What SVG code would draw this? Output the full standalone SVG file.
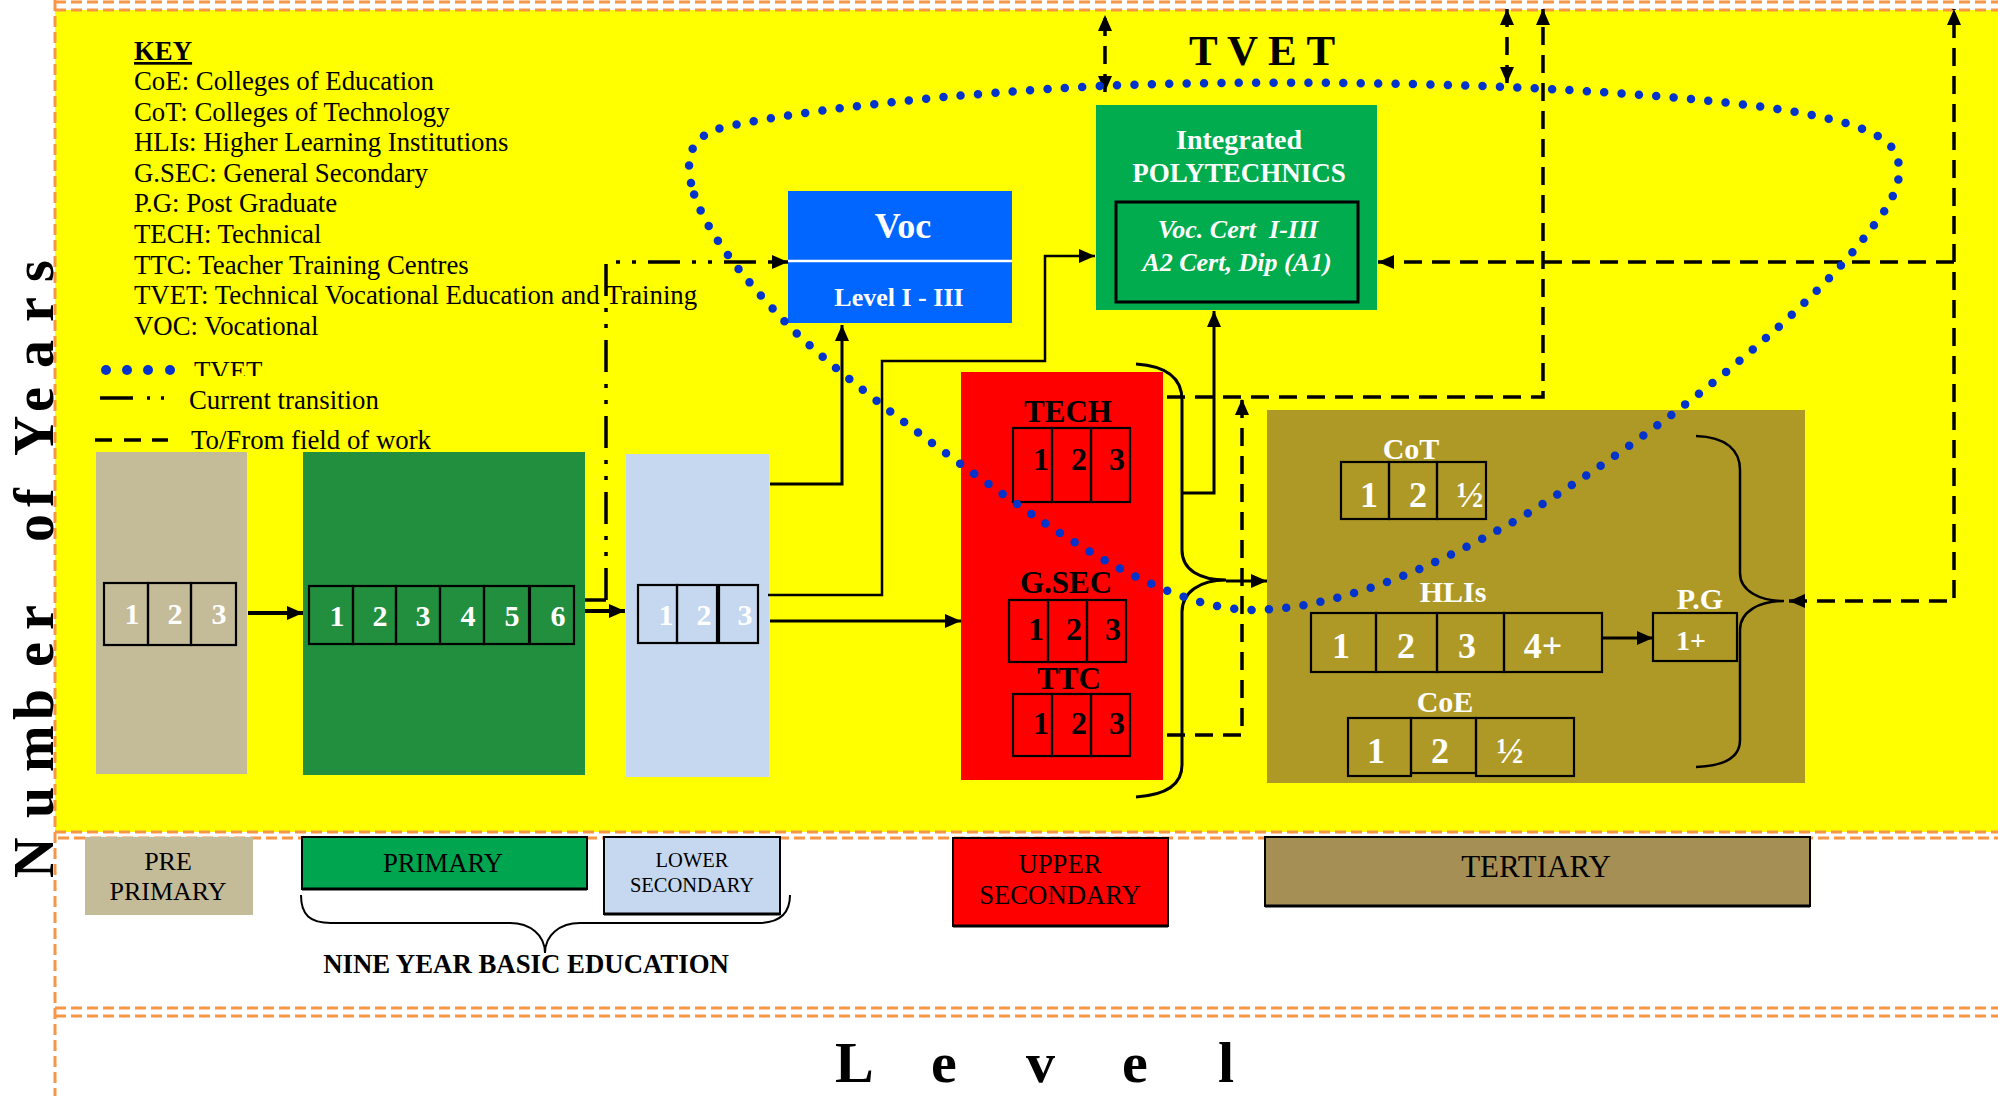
<svg xmlns="http://www.w3.org/2000/svg" width="1998" height="1096" viewBox="0 0 1998 1096">
<defs>
<marker id="ah" viewBox="0 0 10 10" refX="10" refY="5" markerWidth="16" markerHeight="14" markerUnits="userSpaceOnUse" orient="auto-start-reverse" preserveAspectRatio="none"><path d="M0,0 L10,5 L0,10 z" fill="#000"/></marker>
<clipPath id="tvclip"><rect x="180" y="340" width="120" height="36"/></clipPath>
</defs>
<style>
text{font-family:"Liberation Serif","Times New Roman",serif}
.key{font-size:26.8px;fill:#000}
.b{font-weight:bold}
.cell{fill:none;stroke:#000;stroke-width:2.2}
.dg{font-size:30px;font-weight:bold;fill:#fff;text-anchor:middle}
.rd{font-size:32px;font-weight:bold;fill:#000;text-anchor:middle}
.rl{font-size:31px;font-weight:bold;fill:#000;text-anchor:middle}
.td{font-size:36px;font-weight:bold;fill:#fff;text-anchor:middle}
.tl{font-size:30px;font-weight:bold;fill:#fff;text-anchor:middle}
.sol{fill:none;stroke:#000;stroke-width:3}
.dash{fill:none;stroke:#000;stroke-width:3.5;stroke-dasharray:18 10}
.dd{fill:none;stroke:#000;stroke-width:3.5;stroke-dasharray:32 12 4 12 4 12}
.or{fill:none;stroke:#f79646;stroke-width:3;stroke-dasharray:11 5}
.lbl{fill:#000;text-anchor:middle}
.s26{font-size:26px}
.s21{font-size:20.5px}
.s27{font-size:26.7px}
.s31{font-size:31px}
</style>
<rect width="1998" height="1096" fill="#fff"/>
<rect x="55" y="10" width="1943" height="822" fill="#ffff00"/>
<g id="frame">
<path class="or" d="M55,2 H1998 M55,10 H1998 M55,832 H1998 M58,838 H1998 M55,1008 H1998 M55,1016 H1998 M55,0 V1096"/>
</g>
<g id="axis-labels">
<text transform="translate(53,878) rotate(-90)" font-size="56" font-weight="bold" x="0 42 60 92 106 150 158 190 211 237 248 275 336 365 371 392 422 452 466 492 510 540 556 584 596" y="0">N u m b e r o f Y e a r s</text>
<text x="835 849.5 931 945.5 1026 1040.5 1122 1136.5 1218" y="1082" font-size="58" font-weight="bold">L e v e l</text>
</g>
<g id="key">
<text class="key b" x="134" y="60" text-decoration="underline">KEY</text>
<text class="key" x="134" y="90">CoE: Colleges of Education</text>
<text class="key" x="134" y="121">CoT: Colleges of Technology</text>
<text class="key" x="134" y="151">HLIs: Higher Learning Institutions</text>
<text class="key" x="134" y="182">G.SEC: General Secondary</text>
<text class="key" x="134" y="212">P.G: Post Graduate</text>
<text class="key" x="134" y="243">TECH: Technical</text>
<text class="key" x="134" y="274">TTC: Teacher Training Centres</text>
<text class="key" x="134" y="304">TVET: Technical Vocational Education and Training</text>
<text class="key" x="134" y="335">VOC: Vocational</text>
</g>
<g id="legend">
<g fill="#0033cc"><circle cx="106" cy="370" r="5"/><circle cx="127" cy="370" r="5"/><circle cx="148" cy="370" r="5"/><circle cx="170" cy="370" r="5"/></g>
<text class="key" x="194" y="380" clip-path="url(#tvclip)">TVET</text>
<path d="M100,398 H133" stroke="#000" stroke-width="3.5"/>
<path d="M147,398 H150 M161,398 H164" stroke="#000" stroke-width="3.5"/>
<text class="key" x="189" y="409">Current transition</text>
<path d="M95,440 H112 M124,440 H141 M152,440 H168" stroke="#000" stroke-width="3.5"/>
<text class="key" x="191" y="449">To/From field of work</text>
</g>
<g id="pre-primary">
<rect x="96" y="452" width="151" height="322" fill="#c4bb99"/>
<rect class="cell" x="104" y="583" width="44" height="62"/><rect class="cell" x="148" y="583" width="43" height="62"/><rect class="cell" x="191" y="583" width="45" height="62"/>
<text class="dg" x="132" y="624">1</text><text class="dg" x="175" y="624">2</text><text class="dg" x="219" y="624">3</text>
</g>
<g id="primary">
<rect x="303" y="452" width="282" height="323" fill="#228f3e"/>
<rect class="cell" x="309" y="586" width="44" height="58"/><rect class="cell" x="353" y="586" width="43" height="58"/><rect class="cell" x="396" y="586" width="44" height="58"/><rect class="cell" x="440" y="586" width="44" height="58"/><rect class="cell" x="484" y="586" width="45" height="58"/><rect class="cell" x="530" y="586" width="44" height="58"/>
<text class="dg" x="337" y="626">1</text><text class="dg" x="380" y="626">2</text><text class="dg" x="423" y="626">3</text><text class="dg" x="468" y="626">4</text><text class="dg" x="512" y="626">5</text><text class="dg" x="558" y="626">6</text>
</g>
<g id="lower-secondary">
<rect x="626" y="454" width="143" height="323" fill="#c5d8ef"/>
<rect class="cell" x="638" y="585" width="39" height="58"/><rect class="cell" x="677" y="585" width="40" height="58"/><rect class="cell" x="719" y="585" width="39" height="58"/>
<text class="dg" x="666" y="625">1</text><text class="dg" x="704" y="625">2</text><text class="dg" x="745" y="625">3</text>
</g>
<g id="voc">
<rect x="788" y="191" width="224" height="132" fill="#0066ff"/>
<path d="M788,261 H1012" stroke="#fff" stroke-width="2.5"/>
<text x="903" y="238" font-size="36" font-weight="bold" fill="#fff" text-anchor="middle">Voc</text>
<text x="899" y="306" font-size="26" font-weight="bold" fill="#fff" text-anchor="middle">Level I - III</text>
</g>
<g id="polytechnics">
<rect x="1096" y="105" width="281" height="205" fill="#00ac4e"/>
<text x="1239" y="149" font-size="28" font-weight="bold" fill="#fff" text-anchor="middle">Integrated</text>
<text x="1239" y="182" font-size="27" font-weight="bold" fill="#fff" text-anchor="middle">POLYTECHNICS</text>
<rect x="1116" y="202" width="242" height="100" fill="none" stroke="#000" stroke-width="3"/>
<text x="1238" y="238" font-size="26" font-weight="bold" font-style="italic" fill="#fff" text-anchor="middle" xml:space="preserve">Voc. Cert  I-III</text>
<text x="1237" y="271" font-size="26" font-weight="bold" font-style="italic" fill="#fff" text-anchor="middle">A2 Cert, Dip (A1)</text>
</g>
<g id="tvet-title">
<text x="1189" y="65" font-size="43" font-weight="bold" fill="#000">T V E T</text>
</g>
<g id="upper-secondary">
<rect x="961" y="372" width="202" height="408" fill="#ff0000"/>
<text class="rl" x="1068" y="422">TECH</text>
<rect class="cell" x="1013" y="428" width="39" height="74"/><rect class="cell" x="1052" y="428" width="39" height="74"/><rect class="cell" x="1091" y="428" width="39" height="74"/>
<text class="rd" x="1041" y="470">1</text><text class="rd" x="1079" y="470">2</text><text class="rd" x="1117" y="470">3</text>
<text class="rl" x="1066" y="593">G.SEC</text>
<rect class="cell" x="1009" y="600" width="39" height="62"/><rect class="cell" x="1048" y="600" width="39" height="62"/><rect class="cell" x="1087" y="600" width="39" height="62"/>
<text class="rd" x="1036" y="640">1</text><text class="rd" x="1074" y="640">2</text><text class="rd" x="1113" y="640">3</text>
<text class="rl" x="1069" y="689">TTC</text>
<rect class="cell" x="1013" y="694" width="39" height="62"/><rect class="cell" x="1052" y="694" width="39" height="62"/><rect class="cell" x="1091" y="694" width="39" height="62"/>
<text class="rd" x="1041" y="734">1</text><text class="rd" x="1079" y="734">2</text><text class="rd" x="1117" y="734">3</text>
</g>
<g id="tertiary">
<rect x="1267" y="410" width="538" height="373" fill="#af9926"/>
<text class="tl" x="1411" y="459">CoT</text>
<rect class="cell" x="1341" y="462" width="48" height="57"/><rect class="cell" x="1389" y="462" width="48" height="57"/><rect class="cell" x="1437" y="462" width="49" height="57"/>
<text class="td" x="1369" y="507">1</text><text class="td" x="1418" y="507">2</text><text class="td" x="1470" y="507">½</text>
<text class="tl" x="1453" y="602">HLIs</text>
<rect class="cell" x="1311" y="613" width="65" height="59"/><rect class="cell" x="1376" y="613" width="61" height="59"/><rect class="cell" x="1437" y="613" width="67" height="59"/><rect class="cell" x="1504" y="613" width="98" height="59"/>
<text class="td" x="1341" y="658">1</text><text class="td" x="1406" y="658">2</text><text class="td" x="1467" y="658">3</text><text class="td" x="1543" y="658">4+</text>
<text class="tl" x="1700" y="609">P.G</text>
<rect class="cell" x="1653" y="613" width="84" height="48"/>
<text x="1691" y="650" font-size="28" font-weight="bold" fill="#fff" text-anchor="middle">1+</text>
<text class="tl" x="1445" y="712">CoE</text>
<rect class="cell" x="1348" y="718" width="63" height="58"/><rect class="cell" x="1411" y="718" width="65" height="55"/><rect class="cell" x="1476" y="718" width="98" height="58"/>
<text class="td" x="1376" y="763">1</text><text class="td" x="1440" y="763">2</text><text class="td" x="1510" y="763">½</text>
</g>
<g id="connectors">
<path d="M248,613 H303" stroke="#000" stroke-width="4" marker-end="url(#ah)"/>
<path d="M585,611 H625" stroke="#000" stroke-width="4" marker-end="url(#ah)"/>
<path d="M585,600 H606" stroke="#000" stroke-width="3.5"/>
<path class="dd" d="M606,600 V262 H788" marker-end="url(#ah)"/>
<path class="sol" d="M770,484 H842 V325" marker-end="url(#ah)"/>
<path fill="none" stroke="#000" stroke-width="2.5" d="M768,595 H882 V361 H1045 V256 H1095" marker-end="url(#ah)"/>
<path class="sol" d="M770,621 H961" marker-end="url(#ah)"/>
<path class="sol" d="M1136,364 C1166,366 1182,378 1182,400 V550 C1182,570 1200,580 1226,580 C1200,580 1182,592 1182,612 V765 C1182,785 1166,795 1136,797"/>
<path class="sol" d="M1182,493 H1214 V311" marker-end="url(#ah)"/>
<path class="sol" d="M1226,581 H1267" marker-end="url(#ah)"/>
<path class="dash" d="M1167,397 H1543 V9" marker-end="url(#ah)"/>
<path class="dash" d="M1167,735 H1242 V399" marker-end="url(#ah)"/>
<path class="dash" d="M1105,92 V15" marker-start="url(#ah)" marker-end="url(#ah)"/>
<path class="dash" d="M1507,83 V9" marker-start="url(#ah)" marker-end="url(#ah)"/>
<path class="dash" d="M1789,601 H1954 V9" marker-start="url(#ah)" marker-end="url(#ah)"/>
<path class="dash" d="M1954,262 H1378" marker-end="url(#ah)"/>
<path class="sol" d="M1602,638 H1653" marker-end="url(#ah)"/>
<path fill="none" stroke="#000" stroke-width="2.5" d="M1696,436 C1726,437 1740,450 1740,470 V573 C1740,591 1760,601 1784,601 C1760,601 1740,611 1740,630 V740 C1740,757 1726,766 1696,767"/>
<path fill="none" stroke="#0033cc" stroke-width="8.5" stroke-linecap="round" stroke-dasharray="0 17.4" d="M691,183 C684,150 695,130 740,124 C820,108 950,94 1100,86 C1250,80 1450,82 1600,92 C1750,102 1860,115 1890,145 C1910,170 1895,200 1870,230 C1820,300 1680,420 1520,518 C1420,575 1330,610 1250,610 C1180,608 1100,560 1040,520 C960,465 850,385 790,327 C740,275 700,225 691,183 Z"/>
</g>
<g id="level-labels">
<rect x="85" y="837" width="168" height="78" fill="#c4bb99"/>
<text class="lbl s26" x="168" y="870">PRE</text><text class="lbl s26" x="168" y="900">PRIMARY</text>
<rect x="302" y="837" width="285" height="52" fill="#00a550" stroke="#000" stroke-width="2"/>
<path d="M302,889 H587" stroke="#000" stroke-width="3"/>
<text class="lbl s27" x="443" y="872">PRIMARY</text>
<rect x="604" y="837" width="176" height="77" fill="#c5d8ef" stroke="#000" stroke-width="2"/>
<path d="M604,914 H780" stroke="#000" stroke-width="3"/>
<text class="lbl s21" x="692" y="867">LOWER</text><text class="lbl s21" x="692" y="892">SECONDARY</text>
<path fill="none" stroke="#000" stroke-width="2" d="M301,895 C301,915 310,923 331,923 H510 C530,923 545,935 545,953 C545,935 560,923 580,923 H758 C778,923 790,915 790,895"/>
<text x="526" y="973" font-size="26.8" font-weight="bold" text-anchor="middle">NINE YEAR BASIC EDUCATION</text>
<rect x="953" y="838" width="215" height="88" fill="#ff0000" stroke="#000" stroke-width="2"/>
<path d="M953,926 H1168" stroke="#000" stroke-width="3"/>
<text class="lbl s27" x="1060" y="873">UPPER</text><text class="lbl s27" x="1060" y="904">SECONDARY</text>
<rect x="1265" y="837" width="545" height="69" fill="#a58f55" stroke="#000" stroke-width="2"/>
<path d="M1265,906 H1810" stroke="#000" stroke-width="3"/>
<text class="lbl s31" x="1536" y="877">TERTIARY</text>
</g>
</svg>
